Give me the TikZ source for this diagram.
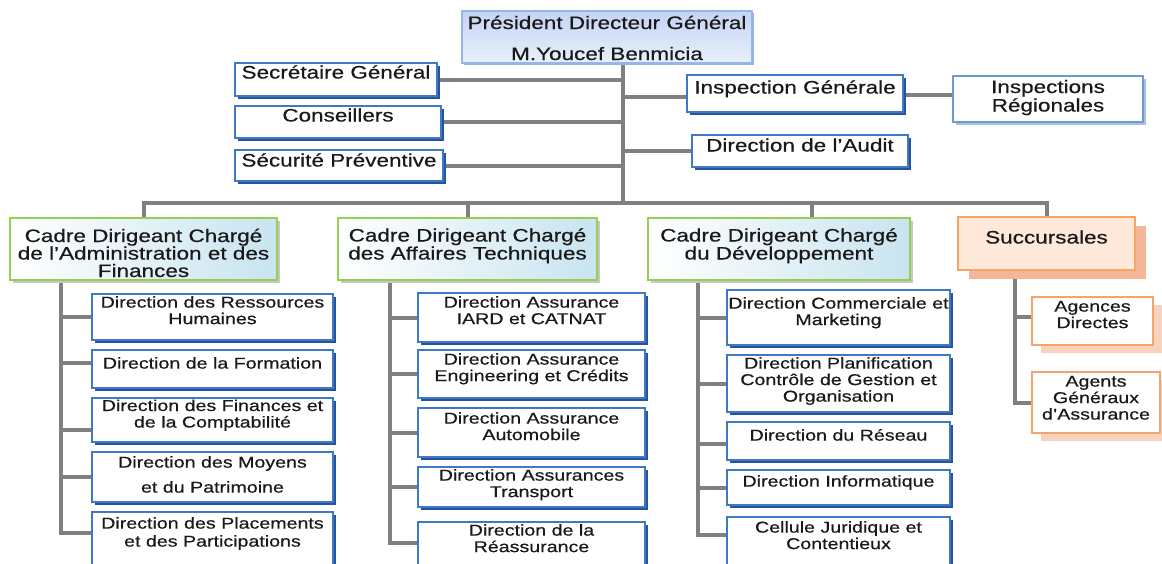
\documentclass[tikz,border=0pt]{standalone}
\usepackage{fontspec}
\setmainfont{Liberation Sans}[FakeStretch=1.25,FakeBold=0.5]
\usetikzlibrary{shadows}
\definecolor{bblue}{RGB}{62,122,196}
\definecolor{bdark}{RGB}{38,84,158}
\definecolor{lgray}{RGB}{128,128,128}
\definecolor{grn}{RGB}{146,208,80}
\definecolor{gblu}{RGB}{200,228,240}
\definecolor{pdgb}{RGB}{150,182,232}
\definecolor{pdgt}{RGB}{196,212,244}
\definecolor{pdgbot}{RGB}{232,240,251}
\definecolor{irb}{RGB}{105,155,212}
\definecolor{irsh}{RGB}{175,192,214}
\definecolor{orng}{RGB}{245,165,105}
\definecolor{opeach}{RGB}{253,232,217}
\definecolor{osh}{RGB}{243,183,152}
\definecolor{osh2}{RGB}{249,210,190}
\newcommand\myfbig{\fontsize{18pt}{17.5pt}\selectfont\lineskiplimit=-20pt\relax}
\newcommand\myfsm{\fontsize{15.7pt}{16.5pt}\selectfont\lineskiplimit=-20pt\relax}
\pgfdeclarelayer{bg}
\pgfsetlayers{bg,main}
\tikzset{
  ln/.style={draw=lgray, line width=4pt},
  lbl/.style={anchor=base, inner sep=0pt, outer sep=0pt, align=center, text=black!90},
  big/.style={font=\myfbig},
  sm/.style={font=\myfsm},
  boxbase/.style={anchor=north west, inner sep=0pt, outer sep=0pt},
  bx/.style={boxbase, draw=bblue, line width=1.6pt, fill=white,
    drop shadow={shadow xshift=2.6pt, shadow yshift=-2.6pt, fill=bdark, opacity=1}},
  irbox/.style={boxbase, draw=irb, line width=1.5pt, fill=white,
    drop shadow={shadow xshift=2.5pt, shadow yshift=-2.5pt, fill=irsh, opacity=1}},
  pdgbox/.style={boxbase, draw=pdgb, line width=1.5pt, top color=pdgt, bottom color=pdgbot,
    drop shadow={shadow xshift=1.5pt, shadow yshift=-1.5pt, fill=pdgb, opacity=1}},
  gbox/.style={boxbase, draw=grn, line width=2.2pt, left color=white, right color=gblu,
    drop shadow={shadow xshift=3pt, shadow yshift=-3pt, fill=black!22, opacity=1}},
  sucbox/.style={boxbase, draw=orng, line width=1.5pt, fill=opeach,
    drop shadow={shadow xshift=11pt, shadow yshift=-9pt, fill=osh, opacity=1}},
  obox/.style={boxbase, draw=orng, line width=1.5pt, fill=white,
    drop shadow={shadow xshift=9pt, shadow yshift=-8pt, fill=osh2, opacity=1}},
}
\begin{document}
\begin{tikzpicture}[x=1pt, y=-1pt]
\clip (0,0) rectangle (1162,563);
\begin{pgfonlayer}{bg}
\fill[white] (0,0) rectangle (1162,563);
\end{pgfonlayer}

% top level
\node[pdgbox, minimum width=290pt, minimum height=52pt,
  label={[lbl,big,yshift=-49pt]north:{Président Directeur Général\\[13.5pt]M.Youcef Benmicia}}] (pdg) at (462,11) {};
\node[bx, minimum width=202pt, minimum height=33pt,
  label={[lbl,big,yshift=-15.5pt]north:{Secrétaire Général}}] (sec) at (235,63) {};
\node[bx, minimum width=206pt, minimum height=32pt,
  label={[lbl,big,yshift=-15.5pt]north:{Conseillers}}] (cons) at (235,106) {};
\node[bx, minimum width=208pt, minimum height=31pt,
  label={[lbl,big,yshift=-16.5pt]north:{Sécurité Préventive}}] (secu) at (235,150) {};
\node[bx, minimum width=216pt, minimum height=37pt,
  label={[lbl,big,yshift=-18.5pt]north:{Inspection Générale}}] (ig) at (687,75) {};
\node[irbox, minimum width=190pt, minimum height=46pt,
  label={[lbl,big,yshift=-35.5pt]north:{Inspections\\[1pt]Régionales}}] (ir) at (953,76) {};
\node[bx, minimum width=216pt, minimum height=32pt,
  label={[lbl,big,yshift=-16.5pt]north:{Direction de l’Audit}}] (aud) at (692,135) {};

% second level
\node[gbox, minimum width=267pt, minimum height=62pt,
  label={[lbl,big,yshift=-59pt]north:{Cadre Dirigeant Chargé\\de l’Administration et des\\Finances}}] (adm) at (10,218) {};
\node[gbox, minimum width=259pt, minimum height=62pt,
  label={[lbl,big,yshift=-41.5pt]north:{Cadre Dirigeant Chargé\\[0.5pt]des Affaires Techniques}}] (tech) at (338,218) {};
\node[gbox, minimum width=262pt, minimum height=62pt,
  label={[lbl,big,yshift=-41.5pt]north:{Cadre Dirigeant Chargé\\[0.5pt]du Développement}}] (dev) at (648,218) {};
\node[sucbox, minimum width=177pt, minimum height=53pt,
  label={[lbl,big,yshift=-26.5pt]north:{Succursales}}] (suc) at (958,217) {};

% branch A
\node[bx, minimum width=241pt, minimum height=46pt,
  label={[lbl,sm,yshift=-30.1pt]north:{Direction des Ressources\\Humaines}}] (rh) at (92,294) {};
\node[bx, minimum width=241pt, minimum height=38pt,
  label={[lbl,sm,yshift=-18.6pt]north:{Direction de la Formation}}] (form) at (92,350) {};
\node[bx, minimum width=241pt, minimum height=44pt,
  label={[lbl,sm,yshift=-29.5pt]north:{Direction des Finances et\\de la Comptabilité}}] (fin) at (92,398) {};
\node[bx, minimum width=241pt, minimum height=50pt,
  label={[lbl,sm,yshift=-40.6pt]north:{Direction des Moyens\\[8.5pt]et du Patrimoine}}] (moy) at (92,452) {};
\node[bx, minimum width=241pt, minimum height=63pt,
  label={[lbl,sm,yshift=-34.6pt]north:{Direction des Placements\\[1.5pt]et des Participations}}] (pl) at (92,512) {};

% branch B
\node[bx, minimum width=227pt, minimum height=49pt,
  label={[lbl,sm,yshift=-31.1pt]north:{Direction Assurance\\IARD et CATNAT}}] (iard) at (418,293) {};
\node[bx, minimum width=227pt, minimum height=48pt,
  label={[lbl,sm,yshift=-31.1pt]north:{Direction Assurance\\Engineering et Crédits}}] (eng) at (418,350) {};
\node[bx, minimum width=227pt, minimum height=49pt,
  label={[lbl,sm,yshift=-32.1pt]north:{Direction Assurance\\Automobile}}] (auto) at (418,408) {};
\node[bx, minimum width=227pt, minimum height=40pt,
  label={[lbl,sm,yshift=-30.1pt]north:{Direction Assurances\\Transport}}] (trans) at (418,467) {};
\node[bx, minimum width=227pt, minimum height=53pt,
  label={[lbl,sm,yshift=-30.1pt]north:{Direction de la\\Réassurance}}] (reas) at (418,522) {};

% branch C
\node[bx, minimum width=223pt, minimum height=55pt,
  label={[lbl,sm,yshift=-35.1pt]north:{Direction Commerciale et\\Marketing}}] (com) at (727,290) {};
\node[bx, minimum width=223pt, minimum height=57pt,
  label={[lbl,sm,yshift=-46.6pt]north:{Direction Planification\\Contrôle de Gestion et\\Organisation}}] (plan) at (727,355) {};
\node[bx, minimum width=223pt, minimum height=38pt,
  label={[lbl,sm,yshift=-18.6pt]north:{Direction du Réseau}}] (res) at (727,422) {};
\node[bx, minimum width=223pt, minimum height=35pt,
  label={[lbl,sm,yshift=-16.6pt]north:{Direction Informatique}}] (info) at (727,470) {};
\node[bx, minimum width=223pt, minimum height=58pt,
  label={[lbl,sm,yshift=-32.1pt]north:{Cellule Juridique et\\Contentieux}}] (cel) at (727,517) {};

% branch D
\node[obox, minimum width=121pt, minimum height=48pt,
  label={[lbl,sm,yshift=-31.1pt]north:{Agences\\Directes}}] (ag) at (1032,297) {};
\node[obox, minimum width=128pt, minimum height=61pt,
  label={[lbl,sm,yshift=-47.6pt]north:{Agents\\Généraux\\d’Assurance}}] (agt) at (1032,372) {};

% connectors
\coordinate (bar) at (623,203);
\coordinate (dc) at (812,203);
\coordinate (sa) at (61,0);
\coordinate (sb) at (390,0);
\coordinate (sc) at (698,0);
\coordinate (sd) at (1015,0);

\begin{pgfonlayer}{bg}
\draw[ln] (pdg.south -| bar) -- (bar);
\draw[ln] (sec.east) -- (sec.east -| bar);
\draw[ln] (cons.east) -- (cons.east -| bar);
\draw[ln] (secu.east) -- (secu.east -| bar);
\draw[ln] ([yshift=-3.5pt]ig.west) -- ([yshift=-3.5pt]ig.west -| bar);
\draw[ln] (aud.west) -- (aud.west -| bar);
\draw[ln] ([yshift=-1.5pt]ig.east) -- ([yshift=-1.5pt]ig.east -| ir.west);
\draw[ln] (adm.north) |- (bar) -| (suc.north);
\draw[ln] (tech.north) -- (tech.north |- bar);
\draw[ln] (dc) -- (dc |- dev.north);

\draw[ln] (adm.south -| sa) |- ([yshift=10.5pt]pl.west);
\draw[ln] (rh.west) -- (rh.west -| sa);
\draw[ln] ([yshift=6pt]form.west) -- ([yshift=6pt]form.west -| sa);
\draw[ln] ([yshift=-10pt]fin.west) -- ([yshift=-10pt]fin.west -| sa);
\draw[ln] (moy.west) -- (moy.west -| sa);

\draw[ln] (tech.south -| sb) |- ([yshift=5.5pt]reas.west);
\draw[ln] (iard.west) -- (iard.west -| sb);
\draw[ln] (eng.west) -- (eng.west -| sb);
\draw[ln] (auto.west) -- (auto.west -| sb);
\draw[ln] (trans.west) -- (trans.west -| sb);

\draw[ln] (dev.south -| sc) |- ([yshift=11pt]cel.west);
\draw[ln] (com.west) -- (com.west -| sc);
\draw[ln] (plan.west) -- (plan.west -| sc);
\draw[ln] ([yshift=-3pt]res.west) -- ([yshift=-3pt]res.west -| sc);
\draw[ln] (info.west) -- (info.west -| sc);

\draw[ln] (suc.south -| sd) |- (agt.west);
\draw[ln] ([yshift=4pt]ag.west) -- ([yshift=4pt]ag.west -| sd);
\end{pgfonlayer}
\end{tikzpicture}
\end{document}
